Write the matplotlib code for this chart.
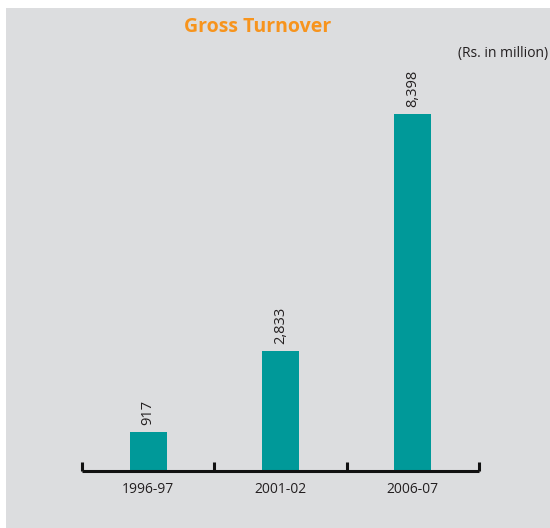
import matplotlib
matplotlib.use('Agg')
import matplotlib.pyplot as plt
from matplotlib.patches import Rectangle

# data
years = ['1996-97', '2001-02', '2006-07']
turnover = [917, 2833, 8398]
value_labels = ['917', '2,833', '8,398']

plt.rcParams['font.family'] = ['Open Sans', 'DejaVu Sans']
txt_color = '#231f20'
bar_color = '#009999'
bg = '#dcdddf'

fig = plt.figure(figsize=(5.5, 5.28), dpi=100, facecolor='white')
# grey panel (white strip on top and left)
fig.patches.append(Rectangle((6 / 550, 0), 1 - 6 / 550, 1 - 8 / 528,
                             transform=fig.transFigure, facecolor=bg,
                             edgecolor='none', zorder=-10))

ax = fig.add_axes([82 / 550, 57 / 528, 397 / 550, 425 / 528])
ax.set_facecolor('none')

x = range(len(years))
bars = ax.bar(x, turnover, width=0.28, color=bar_color, zorder=2)

for rect, lab in zip(bars, value_labels):
    ax.annotate(lab, (rect.get_x() + rect.get_width() / 2, rect.get_height()),
                xytext=(0, 5), textcoords='offset points', rotation=90,
                ha='center', va='bottom', fontsize=10.5, color=txt_color)

ax.set_xlim(-0.5, 2.5)
ax.set_ylim(0, 10000)

for s in ['top', 'right', 'left']:
    ax.spines[s].set_visible(False)
ax.spines['bottom'].set_linewidth(2.2)
ax.spines['bottom'].set_color('#111111')
ax.spines['bottom'].set_capstyle('butt')

ax.set_yticks([])
ax.set_xticks(list(x))
ax.set_xticklabels(years, fontsize=10, color=txt_color)
ax.tick_params(axis='x', which='major', length=0, pad=8)
ax.set_xticks([-0.5, 0.5, 1.5, 2.5], minor=True)
ax.tick_params(axis='x', which='minor', direction='in', length=6.5,
               width=2.2, color='#111111')

fig.text(258 / 550, 1 - 27 / 528, 'Gross Turnover', ha='center', va='center',
         fontsize=14, fontweight='bold', color='#f7941d')
fig.text(548 / 550, 1 - 54 / 528, '(Rs. in million)', ha='right', va='center',
         fontsize=10, color=txt_color)

fig.savefig('out.png', dpi=100, facecolor='white')
